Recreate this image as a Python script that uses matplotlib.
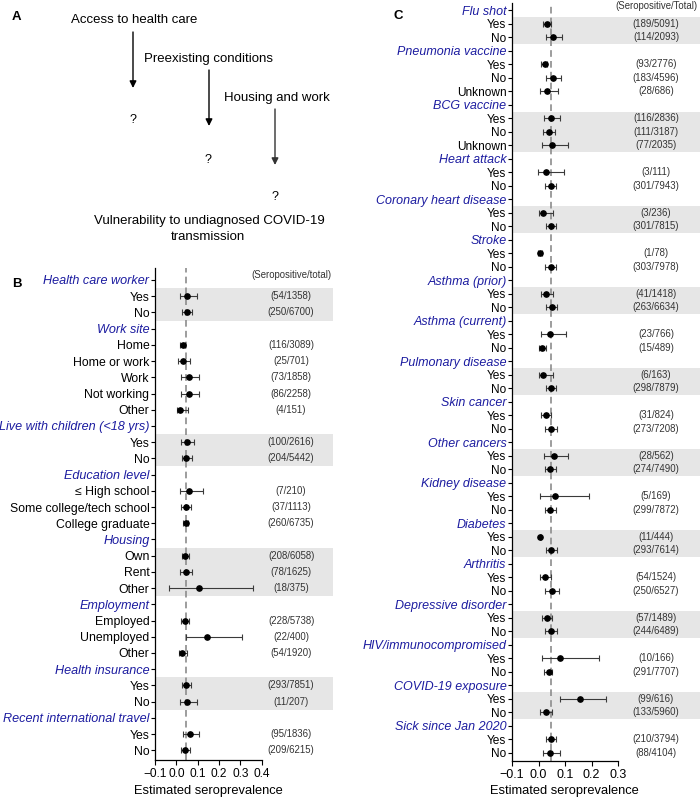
import matplotlib
matplotlib.use('Agg')
import matplotlib.pyplot as plt
import numpy as np

plt.rcParams['font.family'] = ['Liberation Sans', 'DejaVu Sans']

# ---------------- Panel B data ----------------
b_groups = ["Health care worker", "Work site", "Live with children (<18 yrs)",
            "Education level", "Housing", "Employment", "Health insurance",
            "Recent international travel"]
b_levels = [["Yes", "No"],
            ["Home", "Home or work", "Work", "Not working", "Other"],
            ["Yes", "No"],
            ["≤ High school", "Some college/tech school", "College graduate"],
            ["Own", "Rent", "Other"],
            ["Employed", "Unemployed", "Other"],
            ["Yes", "No"],
            ["Yes", "No"]]
b_est = [0.052, 0.048,
         0.030, 0.031, 0.058, 0.058, 0.017,
         0.052, 0.045,
         0.058, 0.044, 0.044,
         0.042, 0.044, 0.108,
         0.042, 0.142, 0.027,
         0.045, 0.050,
         0.064, 0.042]
b_lo = [0.017, 0.028,
        0.017, 0.009, 0.022, 0.022, 0.002,
        0.022, 0.025,
        0.017, 0.022, 0.033,
        0.025, 0.017, -0.034,
        0.023, 0.044, 0.011,
        0.028, 0.019,
        0.030, 0.023]
b_hi = [0.098, 0.072,
        0.042, 0.064, 0.106, 0.108, 0.053,
        0.084, 0.075,
        0.125, 0.069, 0.053,
        0.061, 0.073, 0.358,
        0.061, 0.309, 0.048,
        0.067, 0.098,
        0.108, 0.064]
b_counts = ["(54/1358)", "(250/6700)",
            "(116/3089)", "(25/701)", "(73/1858)", "(86/2258)", "(4/151)",
            "(100/2616)", "(204/5442)",
            "(7/210)", "(37/1113)", "(260/6735)",
            "(208/6058)", "(78/1625)", "(18/375)",
            "(228/5738)", "(22/400)", "(54/1920)",
            "(293/7851)", "(11/207)",
            "(95/1836)", "(209/6215)"]
b_xticks = [-0.1, 0.0, 0.1, 0.2, 0.3, 0.4]

# ---------------- Panel C data ----------------
c_groups = ["Flu shot", "Pneumonia vaccine", "BCG vaccine", "Heart attack",
            "Coronary heart disease", "Stroke", "Asthma (prior)", "Asthma (current)",
            "Pulmonary disease", "Skin cancer", "Other cancers", "Kidney disease",
            "Diabetes", "Arthritis", "Depressive disorder", "HIV/immunocompromised",
            "COVID-19 exposure", "Sick since Jan 2020"]
c_levels = [["Yes", "No"], ["Yes", "No", "Unknown"], ["Yes", "No", "Unknown"]] + \
           [["Yes", "No"]] * 15
c_est = [0.032, 0.053,
         0.023, 0.056, 0.033,
         0.046, 0.040, 0.050,
         0.027, 0.046,
         0.016, 0.047,
         0.004, 0.046,
         0.028, 0.050,
         0.042, 0.012,
         0.018, 0.047,
         0.030, 0.047,
         0.057, 0.043,
         0.064, 0.045,
         0.007, 0.048,
         0.026, 0.050,
         0.032, 0.047,
         0.082, 0.038,
         0.155, 0.027,
         0.048, 0.043]
c_lo = [0.016, 0.027,
        0.009, 0.030, 0.007,
        0.019, 0.017, 0.015,
        -0.001, 0.026,
        0.000, 0.027,
        -0.002, 0.026,
        0.008, 0.027,
        0.008, 0.001,
        0.000, 0.027,
        0.011, 0.026,
        0.021, 0.023,
        0.006, 0.026,
        0.005, 0.027,
        0.007, 0.026,
        0.012, 0.026,
        0.013, 0.021,
        0.082, 0.006,
        0.030, 0.017]
c_hi = [0.046, 0.089,
        0.033, 0.085, 0.072,
        0.081, 0.064, 0.111,
        0.096, 0.066,
        0.055, 0.067,
        0.013, 0.066,
        0.056, 0.070,
        0.104, 0.027,
        0.053, 0.067,
        0.048, 0.069,
        0.113, 0.066,
        0.191, 0.066,
        0.009, 0.069,
        0.046, 0.076,
        0.051, 0.070,
        0.228, 0.052,
        0.253, 0.051,
        0.067, 0.082]
c_counts = ["(189/5091)", "(114/2093)",
            "(93/2776)", "(183/4596)", "(28/686)",
            "(116/2836)", "(111/3187)", "(77/2035)",
            "(3/111)", "(301/7943)",
            "(3/236)", "(301/7815)",
            "(1/78)", "(303/7978)",
            "(41/1418)", "(263/6634)",
            "(23/766)", "(15/489)",
            "(6/163)", "(298/7879)",
            "(31/824)", "(273/7208)",
            "(28/562)", "(274/7490)",
            "(5/169)", "(299/7872)",
            "(11/444)", "(293/7614)",
            "(54/1524)", "(250/6527)",
            "(57/1489)", "(244/6489)",
            "(10/166)", "(291/7707)",
            "(99/616)", "(133/5960)",
            "(210/3794)", "(88/4104)"]
c_xticks = [-0.1, 0.0, 0.1, 0.2, 0.3]

overall = 0.047

W, H = 700, 802
fig = plt.figure(figsize=(W / 100, H / 100), dpi=100)

HEAD_COLOR = '#1c1ca0'


def px_axes(l, t, r, b):
    return fig.add_axes([l / W, 1 - b / H, (r - l) / W, (b - t) / H])


def forest(ax, groups, levels, est, lo, hi, counts, xticks, xlim, ylim,
           annot_x, head_text, head_y, fs_head, fs_lab, fs_x):
    labels, is_head, ypos = [], [], []
    row = 0
    for gi, (g, lv) in enumerate(zip(groups, levels)):
        labels.append(g)
        is_head.append(True)
        row += 1
        first = row
        for name in lv:
            labels.append(name)
            is_head.append(False)
            ypos.append(row)
            row += 1
        last = row - 1
        if gi % 2 == 0:
            ax.axhspan(first - 0.5, last + 0.5, color='#e6e6e6', zorder=0, lw=0)
    ypos = np.array(ypos)
    est = np.array(est)
    lo = np.array(lo)
    hi = np.array(hi)
    ax.axvline(overall, color='#8c8c8c', ls=(0, (4, 2.5)), lw=1.2, zorder=1)
    ax.errorbar(est, ypos, xerr=[est - lo, hi - est], fmt='none',
                ecolor='#3a3a3a', elinewidth=0.8, capsize=2.0, capthick=0.8, zorder=2)
    ax.plot(est, ypos, 'o', color='black', ms=3.8, zorder=3)
    for y, c in zip(ypos, counts):
        ax.text(annot_x, y, c, ha='center', va='center', fontsize=6.9, color='#333333')
    ax.text(annot_x, head_y, head_text, ha='center', va='center', fontsize=6.9,
            color='#333333', clip_on=False)
    ax.set_xlim(*xlim)
    ax.set_ylim(*ylim)
    ax.set_yticks(range(len(labels)))
    ax.set_yticklabels(labels)
    for tl, h in zip(ax.get_yticklabels(), is_head):
        if h:
            tl.set_color(HEAD_COLOR)
            tl.set_fontstyle('italic')
            tl.set_fontsize(fs_head)
        else:
            tl.set_fontsize(fs_lab)
    ax.set_xticks(xticks)
    ax.set_xticklabels([('\u2212%.1f' % -t) if t < 0 else ('%.1f' % t) for t in xticks],
                       fontsize=fs_x)
    ax.spines['top'].set_visible(False)
    ax.spines['right'].set_visible(False)
    ax.spines['bottom'].set_bounds(xticks[0], xticks[-1])
    ax.tick_params(axis='y', length=3, width=0.8, pad=1)
    ax.tick_params(axis='x', length=3.5, width=0.8, pad=2.5)
    for s in ('left', 'bottom'):
        ax.spines[s].set_linewidth(0.9)
    ax.patch.set_alpha(0)


# ---------------- Panel A ----------------
axA = fig.add_axes([0, 0, 1, 1])
axA.set_xlim(0, W)
axA.set_ylim(H, 0)
axA.axis('off')
fsA = 9.5
axA.text(12, 17, 'A', fontsize=9.5, fontweight='bold', ha='left', va='center')
axA.text(134, 20, 'Access to health care', fontsize=fsA, ha='center', va='center')
axA.text(208, 59, 'Preexisting conditions', fontsize=fsA, ha='center', va='center')
axA.text(277, 98, 'Housing and work', fontsize=fsA, ha='center', va='center')
for (x, y0, y1, col) in [(133, 32, 88, 'black'), (209, 70, 126, 'black'), (275, 109, 165, '#333333')]:
    axA.annotate('', xy=(x, y1), xytext=(x, y0),
                 arrowprops=dict(arrowstyle='-|>', color=col, lw=1.0,
                                 mutation_scale=10, shrinkA=0, shrinkB=0))
for (x, y) in [(133, 120), (208, 160), (275, 197)]:
    axA.text(x, y, '?', fontsize=9, ha='center', va='center')
axA.text(209, 221, 'Vulnerability to undiagnosed COVID-19', fontsize=fsA, ha='center', va='center')
axA.text(208, 237, 'transmission', fontsize=fsA, ha='center', va='center')
axA.text(12, 284, 'B', fontsize=9.5, fontweight='bold', ha='left', va='center')
axA.text(394, 16, 'C', fontsize=9.5, fontweight='bold', ha='left', va='center')

# ---------------- Panel B ----------------
axB = px_axes(155, 268, 333, 760)
forest(axB, b_groups, b_levels, b_est, b_lo, b_hi, b_counts, b_xticks,
       xlim=(-0.1, 0.7345), ylim=(29.6, -0.74), annot_x=0.538,
       head_text='(Seropositive/total)', head_y=-0.3, fs_head=9.1, fs_lab=8.8, fs_x=8.6)
axA.text(208, 791, 'Estimated seroprevalence', fontsize=9.3, ha='center', va='center')

# ---------------- Panel C ----------------
axC = px_axes(512, 3, 700, 760.7)
forest(axC, c_groups, c_levels, c_est, c_lo, c_hi, c_counts, c_xticks,
       xlim=(-0.1, 0.609), ylim=(55.6, -0.55), annot_x=0.443,
       head_text='(Seropositive/Total)', head_y=-0.35, fs_head=9.0, fs_lab=8.6, fs_x=9)
axA.text(564, 791, 'Estimated seroprevalence', fontsize=9.3, ha='center', va='center')

fig.savefig('out.png', dpi=100)
